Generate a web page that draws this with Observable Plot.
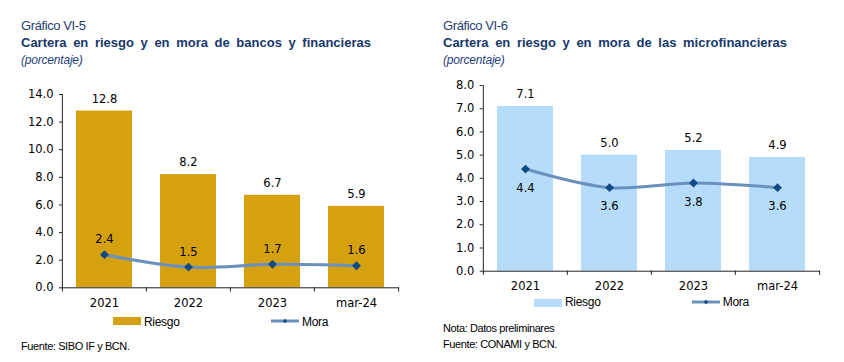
<!DOCTYPE html>
<html><head><meta charset="utf-8">
<script src="https://cdn.jsdelivr.net/npm/d3@7"></script>
<script src="https://cdn.jsdelivr.net/npm/@observablehq/plot@0.6"></script>
<style>
body{margin:0;background:#fff;}
#root{position:relative;width:844px;height:362px;overflow:hidden;font-family:"Liberation Sans",Arial,sans-serif;background:#fff;}
.abs{position:absolute;white-space:nowrap;line-height:1;}
.kick{font-size:13px;color:#24406e;letter-spacing:-0.4px;}
.title{font-size:13px;font-weight:bold;color:#17386b;word-spacing:3px;}
.sub{font-size:12px;font-style:italic;color:#1f3f80;letter-spacing:-0.2px;}
.note{font-size:11px;color:#000;letter-spacing:-0.4px;}
.leg{font-size:12px;color:#000;letter-spacing:-0.3px;}
.sw{position:absolute;}
</style></head>
<body><div id="root"></div>
<script>
// ---- data ----
const categories = ["2021", "2022", "2023", "mar-24"];
const riesgoBancos = [12.8, 8.2, 6.7, 5.9];
const moraBancos = [2.4, 1.5, 1.7, 1.6];
const riesgoMicro = [7.1, 5.0, 5.2, 4.9];
const moraMicro = [4.4, 3.6, 3.8, 3.6];
const yTicksBancos = [0, 2, 4, 6, 8, 10, 12, 14];
const yTicksMicro = [0, 1, 2, 3, 4, 5, 6, 7, 8];

const root = document.getElementById("root");
function addText(cls, txt, left, top) {
  const d = document.createElement("div");
  d.className = "abs " + cls;
  d.textContent = txt;
  d.style.left = left + "px";
  d.style.top = top + "px";
  root.appendChild(d);
  return d;
}

function chart(opts) {
  const {riesgo, mora, yTicks, yMax, barColor, moraDy, left, top, width, height, mt, mb, ml, mr, tickLen} = opts;
  const data = categories.map((c, i) => ({cat: c, riesgo: riesgo[i], mora: mora[i]}));
  const step = (width - ml - mr) / categories.length;
  const fmt = d3.format(".1f");
  const svg = Plot.plot({
    width, height, marginTop: mt, marginBottom: mb, marginLeft: ml, marginRight: mr,
    style: {fontFamily: "'DejaVu Sans', Verdana, sans-serif", fontSize: "11.5px", color: "#000", background: "transparent", overflow: "visible"},
    x: {type: "band", domain: categories, paddingInner: 0.33, paddingOuter: 0.165, label: null},
    y: {domain: [0, yMax], label: null},
    marks: [
      Plot.barY(data, {x: "cat", y: "riesgo", fill: barColor}),
      Plot.ruleY([0], {stroke: "#222", strokeWidth: 1}),
      Plot.ruleX([categories[0]], {x: d => d, y1: -tickLen, y2: yMax, dx: -step / 2, stroke: "#222"}),
      Plot.ruleX(categories.slice(1), {x: d => d, y1: -tickLen, y2: 0, dx: -step / 2, stroke: "#222"}),
      Plot.ruleX([categories[categories.length - 1]], {x: d => d, y1: -tickLen, y2: 0, dx: step / 2, stroke: "#222"}),
      Plot.axisY({ticks: yTicks, tickFormat: fmt, tickSize: 3, tickPadding: 6, label: null, stroke: "#222"}),
      Plot.axisX({tickSize: 0, tickPadding: 11, label: null}),
      Plot.text(data, {x: "cat", y: "riesgo", text: d => fmt(d.riesgo), dy: -12, fill: "#000"}),
      Plot.line(data, {x: "cat", y: "mora", stroke: "#6a91bd", strokeWidth: 3, curve: "catmull-rom"}),
      Plot.dot(data, {x: "cat", y: "mora", symbol: "diamond2", r: 4, fill: "#0f4a85", stroke: "none"}),
      Plot.text(data, {x: "cat", y: "mora", text: d => fmt(d.mora), dy: moraDy, fill: "#000"})
    ]
  });
  const wrap = document.createElement("div");
  wrap.style.position = "absolute";
  wrap.style.left = left + "px";
  wrap.style.top = top + "px";
  wrap.appendChild(svg);
  root.appendChild(wrap);
}

function legend(x0, swTop, lineY, textTop, barColor, moraX) {
  const sw = document.createElement("div");
  sw.className = "sw";
  Object.assign(sw.style, {left: x0 + "px", top: swTop + "px", width: "28px", height: "8px", background: barColor});
  root.appendChild(sw);
  addText("leg", "Riesgo", x0 + 31, textTop);
  const ns = "http://www.w3.org/2000/svg";
  const s = document.createElementNS(ns, "svg");
  s.setAttribute("width", 28); s.setAttribute("height", 8);
  s.style.position = "absolute"; s.style.left = moraX + "px"; s.style.top = (lineY - 4) + "px";
  const l = document.createElementNS(ns, "line");
  l.setAttribute("x1", 0); l.setAttribute("x2", 28); l.setAttribute("y1", 4); l.setAttribute("y2", 4);
  l.setAttribute("stroke", "#6a91bd"); l.setAttribute("stroke-width", 3);
  s.appendChild(l);
  const p = document.createElementNS(ns, "path");
  p.setAttribute("d", "M14,1.8L16.2,4L14,6.2L11.8,4Z");
  p.setAttribute("fill", "#0f4a85");
  s.appendChild(p);
  root.appendChild(s);
  addText("leg", "Mora", moraX + 31, textTop);
}

// ---- left panel ----
addText("kick", "Gráfico VI-5", 21, 18.5);
addText("title", "Cartera en riesgo y en mora de bancos y financieras", 21, 35.7);
addText("sub", "(porcentaje)", 21, 53.8);
chart({riesgo: riesgoBancos, mora: moraBancos, yTicks: yTicksBancos, yMax: 14, barColor: "#d5a10f",
  moraDy: -15, left: 0, top: 70, width: 420, height: 245, mt: 24, mb: 27.7, ml: 62, mr: 21, tickLen: 0.3});
legend(113, 316.7, 320.7, 315.5, "#d5a10f", 271);
addText("note", "Fuente: SIBO IF y BCN.", 21, 341.4);

// ---- right panel ----
addText("kick", "Gráfico VI-6", 443, 18.5);
addText("title", "Cartera en riesgo y en mora de las microfinancieras", 443, 35.7);
addText("sub", "(porcentaje)", 443, 53.8);
chart({riesgo: riesgoMicro, mora: moraMicro, yTicks: yTicksMicro, yMax: 8, barColor: "#b5ddfb",
  moraDy: 19, left: 420, top: 70, width: 420, height: 230, mt: 15, mb: 29.3, ml: 62.7, mr: 20, tickLen: 0.18});
legend(534, 298.5, 302.3, 295.8, "#b5ddfb", 691.7);
addText("note", "Nota: Datos preliminares", 443, 323.4);
addText("note", "Fuente: CONAMI y BCN.", 443, 338.7);
</script>
</body></html>
